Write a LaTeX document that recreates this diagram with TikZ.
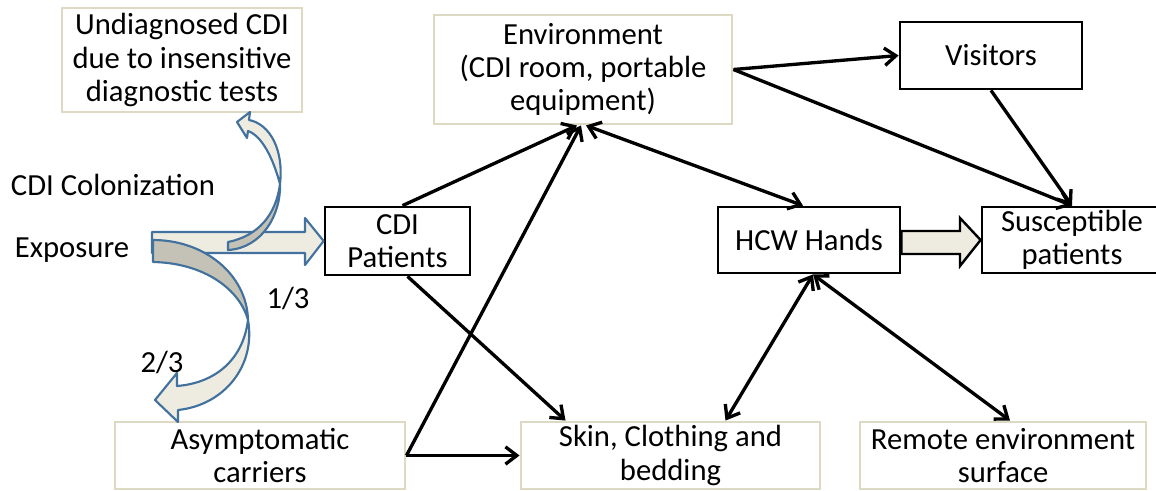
\documentclass[tikz,border=0pt]{standalone}
\usepackage{fontspec}
\setmainfont{Carlito}
\usetikzlibrary{arrows.meta,calc}
\definecolor{beige}{HTML}{DDD9C3}
\definecolor{lightfill}{HTML}{EEECE1}
\definecolor{grayfill}{HTML}{C4C2B6}
\definecolor{arrowblue}{HTML}{41719C}
\begin{document}
\begin{tikzpicture}[x=0.75pt,y=-0.75pt,
  font=\fontsize{23}{25}\selectfont,
  bbox/.style={draw=black, line width=2.1pt, inner sep=0pt, align=center, fill=white},
  pbox/.style={draw=beige, line width=2.2pt, inner sep=0pt, align=center, fill=white},
  conn/.style={line width=2.5pt, -{Straight Barb[length=8.5pt,width=13pt]}},
  dconn/.style={line width=2.5pt, {Straight Barb[length=8.5pt,width=13pt]}-{Straight Barb[length=8.5pt,width=13pt]}},
  blockarrow/.style={draw=arrowblue, line width=1.6pt, line join=round, fill=lightfill},
  backface/.style={draw=arrowblue, line width=1.6pt, line join=round, fill=grayfill},
  plainlabel/.style={inner sep=0pt}
]
\useasboundingbox (0,0) rectangle (1156,490);

% boxes
\node[pbox, minimum width=180pt, minimum height=78pt] (undiag) at (182,60) {Undiagnosed CDI\\due to insensitive\\diagnostic tests};
\node[pbox, minimum width=223.5pt, minimum height=81.75pt] (env) at (583,69.5) {Environment\\(CDI room, portable\\equipment)};
\node[bbox, minimum width=136.5pt, minimum height=50.25pt] (visitors) at (991,55.5) {Visitors};
\node[bbox, minimum width=108.75pt, minimum height=51pt] (cdi) at (397.5,241) {CDI\\Patients};
\node[bbox, minimum width=136.5pt, minimum height=49.5pt] (hcw) at (809,240) {HCW Hands};
\node[bbox, minimum width=135pt, minimum height=49.5pt] (susc) at (1072,240) {Susceptible\\patients};
\node[pbox, minimum width=217.5pt, minimum height=50.25pt] (asym) at (260,455.5) {Asymptomatic\\carriers};
\node[pbox, minimum width=224.25pt, minimum height=50.25pt] (skin) at (670.5,455.5) {Skin, Clothing and\\bedding};
\node[pbox, minimum width=214.5pt, minimum height=50.25pt] (remote) at (1003,455.5) {Remote environment\\surface};

% block arrows on the left
\draw[blockarrow] (152,232) -- (305,232) -- (305,218) -- (cdi.west) -- (305,265) -- (305,253) -- (152,253) -- cycle;
% small curved arrow up
\draw[backface] (228,242) .. controls (258,236) and (276,215) .. (280,184)
  .. controls (281,215) and (262,248) .. (228,250) -- cycle;
\draw[blockarrow] (280,184) .. controls (284,150) and (270,124) .. (249,120)
  -- (250,112) -- (237,122) -- (247,138) -- (248,131)
  .. controls (262,136) and (273,158) .. (280,184) -- cycle;
% big curved arrow down
\draw[backface] (153,240) .. controls (205,240) and (247,275) .. (248,320)
  .. controls (240,290) and (205,263) .. (153,262) -- cycle;
\draw[blockarrow] (248,320) .. controls (256,365) and (225,405) .. (178,410)
  -- (178,422) -- (155,400) -- (177,373) -- (177,386)
  .. controls (215,383) and (243,360) .. (248,320) -- cycle;

% free labels
\node[plainlabel] (colon) at (113,185) {CDI Colonization};
\node[plainlabel] (expo) at (72,250) {Exposure};
\node[plainlabel] (third) at (288,298) {1/3};
\node[plainlabel] (twothird) at (162,362) {2/3};

% HCW -> susceptible block arrow
\draw[draw=black, line width=1.8pt, line join=miter, fill=lightfill]
  (hcw.east |- 0,231) -- (960,231) -- (960,218) -- (susc.west) -- (960,266) -- (960,254) -- (hcw.east |- 0,254) -- cycle;

% connectors
\draw[conn] (env.east) -- (visitors.west);
\draw[conn] (env.east) -- (susc.north);
\draw[conn] (visitors.south) -- (susc.north);
\draw[conn] ($(cdi.north)+(5,0)$) -- ($(env.south)+(-6,0)$);
\draw[conn] (asym.east) -- ($(env.south)+(-2,0)$);
\draw[conn] (asym.east) -- (skin.west);
\draw[conn] ($(cdi.south)+(10,0)$) -- ($(skin.north west)+(46,0)$);
\draw[dconn] ($(env.south)+(3,0)$) -- ($(hcw.north)+(-6,0)$);
\draw[dconn] ($(hcw.south)+(4,0)$) -- ($(skin.north)+(55,0)$);
\draw[dconn] ($(hcw.south)+(4,0)$) -- ($(remote.north)+(7,0)$);
\end{tikzpicture}
\end{document}
